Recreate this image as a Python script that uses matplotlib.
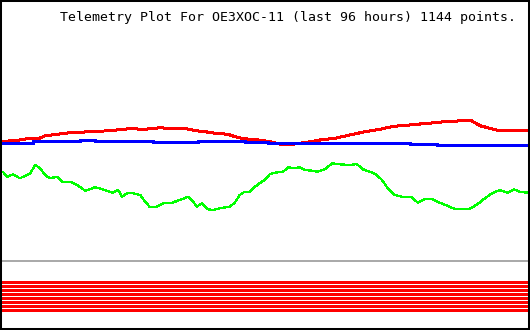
#telemetry plot for OE3XOC-11
import matplotlib
matplotlib.use("Agg")
import matplotlib.pyplot as plt

#time axis in hours (last 96 hours), values in plot units
red_h = [0, 3.6, 5.5, 7.3, 8.2, 10.9, 12.7, 16.4, 20, 23.6, 26.4, 29.1, 31.8, 33.6,
         35.5, 37.3, 39.1, 41.5, 42.7, 44, 45.5, 47.6, 49.1, 50.9, 52.7, 54.5, 56.4,
         58.2, 60.9, 63.6, 66.4, 69.1, 71.6, 74.5, 76.4, 79.1, 80.9, 83.3, 85.5,
         86.4, 87.3, 89.1, 90.9, 92.7, 96]
red_v = [188.3, 190, 191.7, 192, 194.3, 196, 197.3, 198.3, 199.3, 201.3, 200.7, 202.3,
         201, 201.7, 199.3, 198.3, 196.7, 195.7, 193.3, 191.7, 190.7, 189.7, 188.3,
         186, 185.3, 186.7, 188.3, 190, 191.7, 195, 198.3, 200.7, 203.7, 205, 206,
         207.3, 208.3, 209, 210, 207.3, 204.3, 201.7, 199.3, 199.3, 199]

blue_h = [0, 6, 14.5, 17.3, 27.8, 36, 44.5, 48.7, 56.4, 74.5, 79.5, 96]
blue_v = [187.5, 189, 190, 189, 188, 189, 188, 187, 187.3, 186.3, 185.3, 185.3]

green_h = [0, 0.5, 1.3, 2.4, 3.6, 4.5, 5.5, 6.4, 7.3, 8.2, 9.1, 10.4, 11.3, 12.7, 14,
           15.5, 17.3, 18.7, 20.4, 21.5, 22.2, 23.1, 24.2, 25.5, 26.4, 27.3, 28.2,
           29.1, 30, 31.3, 32.7, 34.2, 34.9, 35.8, 36.7, 37.8, 38.7, 40, 41.8, 42.7,
           43.6, 44.5, 45.5, 46.4, 47.6, 48.2, 49.1, 50, 51.5, 52.4, 53.6, 54.5, 55.5,
           56.7, 57.8, 59.1, 60.4, 61.8, 63.6, 64.9, 66, 67.3, 68.5, 69.5, 70.4, 71.3,
           71.8, 73.6, 74.9, 76, 77.3, 78.5, 80, 81.5, 82.7, 84, 85.5, 86.9, 88.2,
           89.5, 90.9, 92.4, 93.5, 94.5, 96]
green_v = [156.7, 158.3, 153.3, 155.7, 151.7, 154, 156.7, 165, 161.7, 155, 151.7, 153.3,
           148.3, 148.3, 145, 139.3, 142.7, 140.7, 137.3, 140, 133.3, 136.7, 136.7, 135,
           128.3, 122.7, 122.7, 125, 127.3, 127.3, 130, 133.3, 130, 123.3, 126.7, 120.7,
           120, 121.7, 123.3, 127.3, 135, 138.3, 138.3, 143.3, 148.3, 150, 156, 157.3,
           158.3, 162.7, 161.7, 162.7, 160, 159.3, 158.3, 160.7, 166.7, 165.7, 165, 166,
           160.7, 158.3, 155, 150, 142.7, 137.3, 135, 132.7, 132.7, 127.3, 131, 131,
           127.3, 124, 121, 120.7, 121.3, 126, 131.7, 136.7, 140, 137.3, 140.7, 138.3,
           137.3]

#separator and the 8 digital channels (all on)
sep_level = 69
bit_levels = [48.5, 44.5, 40.5, 36.5, 32.5, 28.5, 24.5, 20.5]

title = "Telemetry Plot For OE3XOC-11 (last 96 hours) 1144 points."

fig = plt.figure(figsize=(5.3, 3.3), dpi=100)
ax = fig.add_axes([0, 0, 1, 1])
ax.set_xlim(0, 96.4)
ax.set_ylim(0, 330)
ax.set_xticks([])
ax.set_yticks([])
for s in ax.spines.values():
    s.set_color("black")
    s.set_linewidth(2.9)

px = 0.72  #one pixel in points
ax.axhline(sep_level, color="#aaaaaa", lw=2 * px)
for b in bit_levels:
    ax.axhline(b, color="#ff0000", lw=3 * px, antialiased=False)

ax.plot(red_h, red_v, color="#ff0000", lw=2 * px, antialiased=False)
ax.plot(blue_h, blue_v, color="#0000ff", lw=2.7 * px, drawstyle="steps-post", antialiased=False)
ax.plot(green_h, green_v, color="#00ff00", lw=1.3 * px, antialiased=False)

fig.text(60 / 530, 1 - 17 / 330, title, family="DejaVu Sans Mono", fontsize=9.55,
         va="center", ha="left", color="black")

fig.savefig("out.png", dpi=100)
